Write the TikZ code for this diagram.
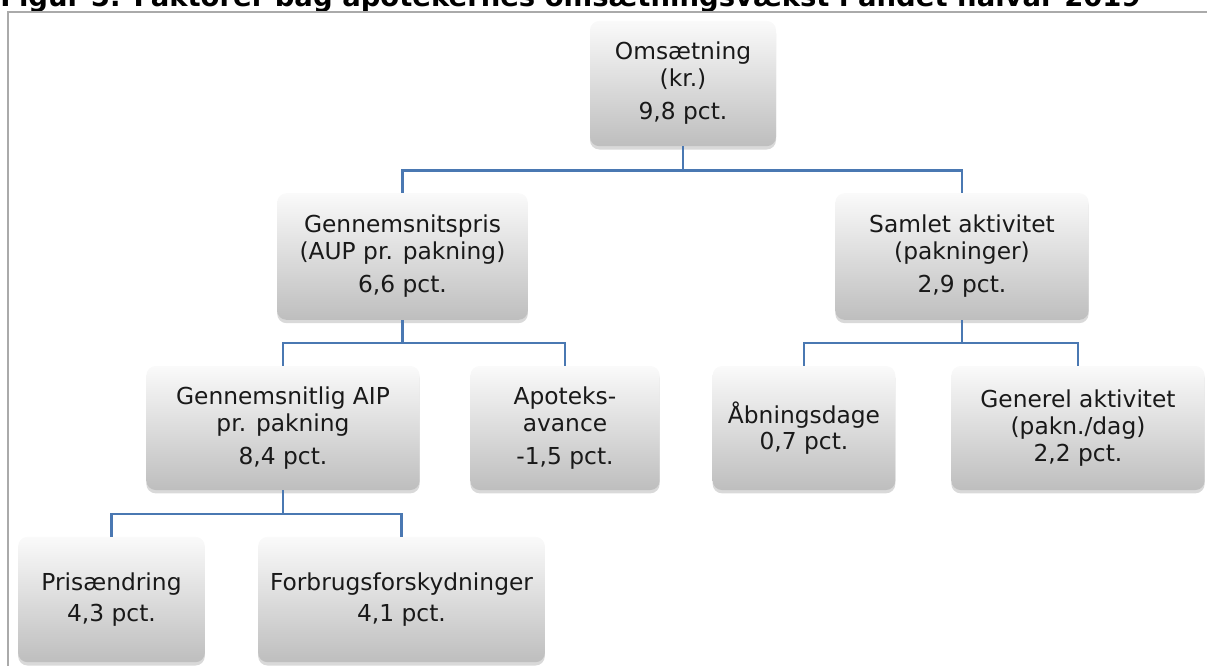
\documentclass[tikz,border=0pt]{standalone}
\usepackage{fontspec}
\setmainfont{DejaVu Sans}
\usetikzlibrary{shadows}

\definecolor{linkblue}{RGB}{74,120,178}
\definecolor{framegray}{RGB}{170,170,170}

\tikzset{
  factor/.style={rectangle, rounded corners=7pt, inner sep=2pt, align=center,
    top color={rgb,255:red,250;green,250;blue,250}, bottom color={rgb,255:red,190;green,190;blue,190},
    drop shadow={opacity=0.3, shadow xshift=0pt, shadow yshift=-2.5pt},
    font=\fontsize{17.5}{20}\selectfont, text={rgb,255:red,25;green,25;blue,25}},
  link/.style={draw=linkblue, line width=1.6pt}
}

\begin{document}
\begin{tikzpicture}[x=0.75pt,y=0.75pt,yscale=-1,xscale=1]
\useasboundingbox (0,0) rectangle (1207,665);
\clip (0,0) rectangle (1207,665);

% Title
\node [anchor=base west, inner sep=0pt, font=\fontsize{20.6}{23}\selectfont\bfseries] (title) at (0,6.5) {Figur 5: Faktorer bag apotekernes omsætningsvækst i andet halvår 2019};

% Frame
\draw [framegray, line width=1.5pt] (8,670) -- (8,12) -- (1212,12);

% Boxes
\node [factor, minimum width=139.5pt, minimum height=94pt] (oms) at (683,83.5) {Omsætning\\(kr.)\\[5pt]9,8 pct.};
\node [factor, minimum width=188pt, minimum height=95pt] (pris) at (402.5,256.5) {Gennemsnitspris\\(AUP pr. pakning)\\[5pt]6,6 pct.};
\node [factor, minimum width=190pt, minimum height=95pt] (akt) at (962,256.5) {Samlet aktivitet\\(pakninger)\\[5pt]2,9 pct.};
\node [factor, minimum width=205pt, minimum height=93pt] (aip) at (283,428) {Gennemsnitlig AIP\\pr. pakning\\[5pt]8,4 pct.};
\node [factor, minimum width=142pt, minimum height=93pt] (avance) at (565,428) {Apoteks-\\avance\\[5pt]-1,5 pct.};
\node [factor, minimum width=137pt, minimum height=93pt] (aabn) at (804,428) {Åbningsdage\\0,7 pct.};
\node [factor, minimum width=190pt, minimum height=93pt] (gen) at (1078,428) {Generel aktivitet\\(pakn./dag)\\2,2 pct.};
\node [factor, minimum width=140pt, minimum height=94pt] (prisaend) at (111.5,599.5) {Prisændring\\[3pt]4,3 pct.};
\node [factor, minimum width=215pt, minimum height=94pt] (forbrug) at (401.5,599.5) {Forbrugsforskydninger\\[3pt]4,1 pct.};

% Connectors
\draw [link] (oms.south) -- ++(0,24) -| (pris.north);
\draw [link] (oms.south) -- ++(0,24) -| (akt.north);
\draw [link] (pris.south) -- ++(0,23) -| (aip.north);
\draw [link] (pris.south) -- ++(0,23) -| (avance.north);
\draw [link] (akt.south) -- ++(0,23) -| (aabn.north);
\draw [link] (akt.south) -- ++(0,23) -| (gen.north);
\draw [link] (aip.south) -- ++(0,24) -| (prisaend.north);
\draw [link] (aip.south) -- ++(0,24) -| (forbrug.north);

\end{tikzpicture}
\end{document}
